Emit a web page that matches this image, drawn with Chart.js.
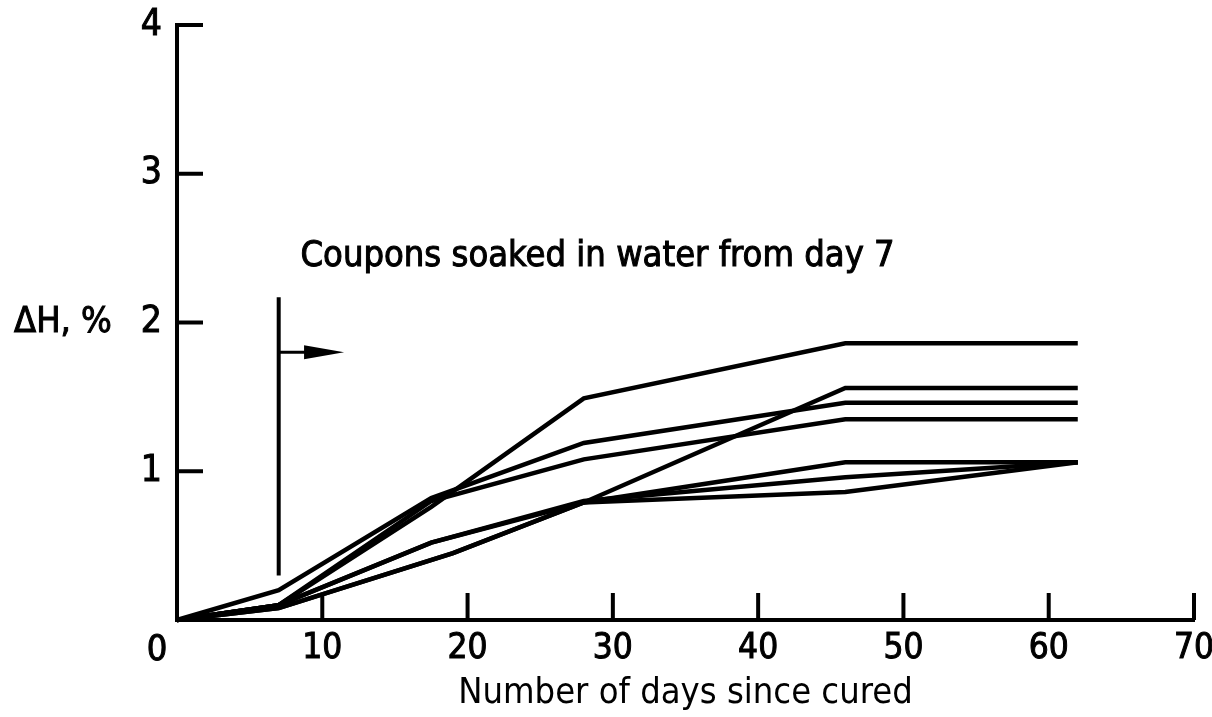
<!DOCTYPE html>
<html>
<head>
<meta charset="utf-8">
<script src="https://cdn.jsdelivr.net/npm/chart.js@4"></script>
<style>
  html, body { margin: 0; padding: 0; background: #fff; }
  #wrap { width: 1212px; height: 717px; }
</style>
</head>
<body>
<div id="wrap"><canvas id="chart" width="1212" height="717"></canvas></div>
<script>
// ====== Data ======
const daysEarly = [0, 7, 17.5, 28, 46, 62];
const daysLate = [0, 7, 19, 28, 46, 62];

const coupon1 = [0, 0.10, 0.76, 1.49, 1.86, 1.86];
const coupon2 = [0, 0.20, 0.82, 1.19, 1.46, 1.46];
const coupon3 = [0, 0.10, 0.80, 1.08, 1.35, 1.35];
const coupon4 = [0, 0.10, 0.52, 0.79, 1.56, 1.56];
const coupon5 = [0, 0.08, 0.45, 0.79, 1.06, 1.06];
const coupon6 = [0, 0.10, 0.52, 0.80, 0.96, 1.06];
const coupon7 = [0, 0.08, 0.45, 0.79, 0.86, 1.06];

const xTicks = [0, 10, 20, 30, 40, 50, 60, 70];
const yTicks = [0, 1, 2, 3, 4];

const soakDay = 7;
const noteText = 'Coupons soaked in water from day 7';

// ===== Style =====
const FONT = "'DejaVu Sans Condensed', 'Liberation Sans Narrow', Roboto, sans-serif";
const INK = '#000';

const toPoints = (days, vals) => days.map((d, i) => ({ x: d, y: vals[i] }));

const series = [
    [daysEarly, coupon1],
    [daysEarly, coupon2],
    [daysEarly, coupon3],
    [daysEarly, coupon4],
    [daysLate, coupon5],
    [daysEarly, coupon6],
    [daysLate, coupon7]
];

// ===== Extra drawing: inner ticks, soak marker, labels =====
const decor = {
    id: 'decor',
    afterDraw(chart) {
        const { ctx, scales: { x, y } } = chart;
        ctx.save();
        ctx.strokeStyle = INK;
        ctx.fillStyle = INK;
        ctx.lineWidth = 4;
        ctx.lineCap = 'butt';

        // ticks pointing into the plot
        yTicks.forEach(v => {
            if (v === 0) return;
            const py = y.getPixelForValue(v);
            ctx.beginPath();
            ctx.moveTo(x.left, py);
            ctx.lineTo(x.left + 26, py);
            ctx.stroke();
        });
        xTicks.forEach(v => {
            if (v === 0) return;
            const px = x.getPixelForValue(v);
            ctx.beginPath();
            ctx.moveTo(px, y.bottom);
            ctx.lineTo(px, y.bottom - 27);
            ctx.stroke();
        });

        // day-7 marker with arrow
        const sx = x.getPixelForValue(soakDay);
        ctx.beginPath();
        ctx.moveTo(sx, y.getPixelForValue(2.17));
        ctx.lineTo(sx, y.getPixelForValue(0.30));
        ctx.stroke();
        const ay = y.getPixelForValue(1.8);
        const tip = x.getPixelForValue(11.5);
        ctx.lineWidth = 3;
        ctx.beginPath();
        ctx.moveTo(sx, ay);
        ctx.lineTo(tip - 30, ay);
        ctx.stroke();
        ctx.beginPath();
        ctx.moveTo(tip, ay);
        ctx.lineTo(tip - 40, ay - 7);
        ctx.lineTo(tip - 40, ay + 7);
        ctx.closePath();
        ctx.fill();

        // shared origin label, set left of the corner
        ctx.font = `36px ${FONT}`;
        ctx.lineWidth = 1;
        ctx.textAlign = 'center';
        ctx.textBaseline = 'top';
        const zx = x.getPixelForValue(0) - 20;
        ctx.fillText('0', zx, y.bottom + 13);
        ctx.strokeText('0', zx, y.bottom + 13);

        // note and y title
        ctx.textAlign = 'left';
        ctx.textBaseline = 'alphabetic';
        const nx = x.getPixelForValue(8.5);
        const ny = y.getPixelForValue(2.38);
        ctx.fillText(noteText, nx, ny);
        ctx.strokeText(noteText, nx, ny);
        ctx.textBaseline = 'middle';
        const ty = y.getPixelForValue(2);
        ctx.fillText('ΔH, %', 14, ty);
        ctx.strokeText('ΔH, %', 14, ty);
        ctx.restore();
    }
};

const ctx = document.getElementById('chart').getContext('2d');
new Chart(ctx, {
    type: 'scatter',
    data: {
        datasets: series.map(([d, v], i) => ({
            label: 'Coupon ' + (i + 1),
            data: toPoints(d, v),
            showLine: true,
            borderColor: INK,
            borderWidth: 4.5,
            pointRadius: 0,
            tension: 0,
            clip: false
        }))
    },
    options: {
        responsive: false,
        animation: false,
        layout: { padding: { top: 25, right: 18, left: 0, bottom: 0 } },
        scales: {
            x: {
                type: 'linear',
                min: 0,
                max: 70,
                afterFit: s => { s.height = 97; s.paddingLeft = 0; s.paddingRight = 0; },
                afterBuildTicks: s => { s.ticks = xTicks.map(v => ({ value: v })); },
                grid: { display: false, drawTicks: false },
                border: { display: true, color: INK, width: 4 },
                ticks: {
                    color: INK,
                    padding: 8,
                    textStrokeColor: INK,
                    textStrokeWidth: 1,
                    font: { family: FONT, size: 35 },
                    callback: v => (v === 0 ? '' : v)
                },
                title: {
                    display: true,
                    text: 'Number of days since cured',
                    color: INK,
                    padding: { top: 0, bottom: 2 },
                    font: { family: FONT, size: 36 }
                }
            },
            y: {
                min: 0,
                max: 4,
                afterFit: s => { s.width = 177; s.paddingTop = 0; s.paddingBottom = 0; },
                afterBuildTicks: s => { s.ticks = yTicks.map(v => ({ value: v })); },
                grid: { display: false, drawTicks: false },
                border: { display: true, color: INK, width: 4 },
                ticks: {
                    color: INK,
                    padding: 15,
                    textStrokeColor: INK,
                    textStrokeWidth: 1,
                    font: { family: FONT, size: 37 },
                    callback: v => (v === 0 ? '' : v)
                }
            }
        },
        plugins: {
            legend: { display: false },
            tooltip: { enabled: false }
        }
    },
    plugins: [decor]
});
</script>
</body>
</html>
